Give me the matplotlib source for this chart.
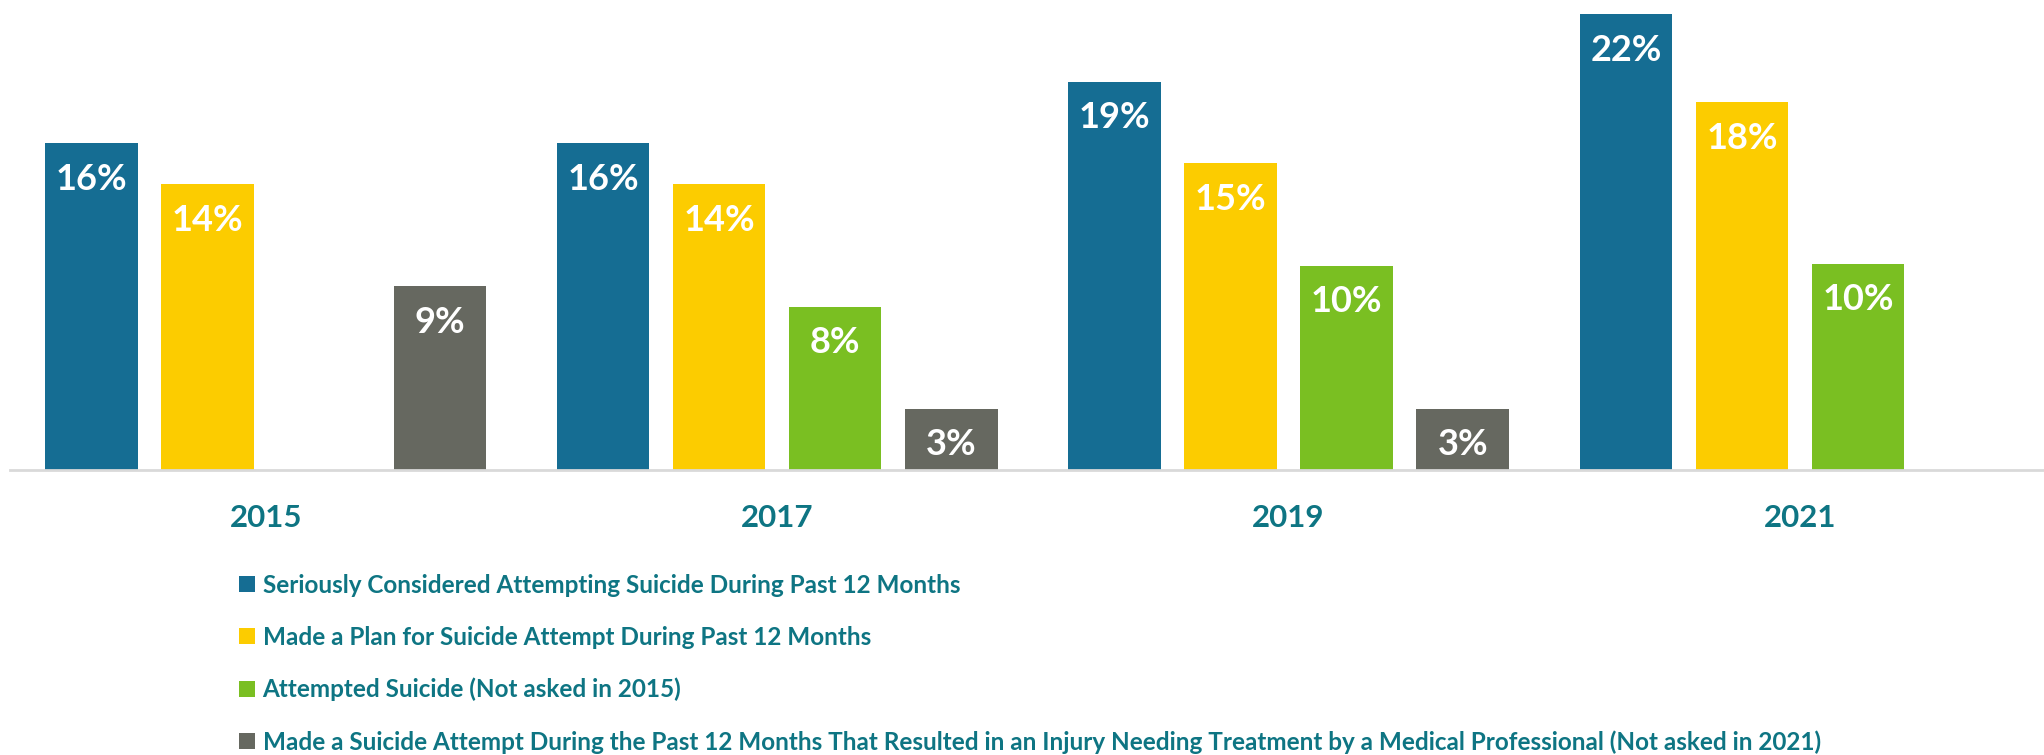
import matplotlib
matplotlib.use("Agg")
import matplotlib.pyplot as plt
from matplotlib.patches import Patch
import numpy as np

plt.rcParams['font.family'] = ['Lato', 'DejaVu Sans']

# data
years = ['2015', '2017', '2019', '2021']
series_names = [
    'Seriously Considered Attempting Suicide During Past 12 Months',
    'Made a Plan for Suicide Attempt During Past 12 Months',
    'Attempted Suicide (Not asked in 2015)',
    'Made a Suicide Attempt During the Past 12 Months That Resulted in an Injury Needing Treatment by a Medical Professional (Not asked in 2021)',
]
considered = [16.0, 16.0, 19.0, 22.3]
plan = [14.0, 14.0, 15.0, 18.0]
attempted = [None, 8.0, 10.0, 10.1]
injury = [9.0, 3.0, 3.0, None]

colors = ['#156D93', '#FCCC00', '#7ABF22', '#666860']
teal = '#0E7583'

fig = plt.figure(figsize=(20.44, 7.55), dpi=100)
ax = fig.add_axes([10 / 2044, 1 - 470 / 755, 1 - 10 / 2044, 470 / 755])

x = np.arange(len(years))
step = 0.227
width = 0.181
all_series = [considered, plan, attempted, injury]
for i, (vals, col) in enumerate(zip(all_series, colors)):
    for xi, v in zip(x, vals):
        if v is None:
            continue
        xp = xi + (i - 1.5) * step
        ax.bar(xp, v, width=width, color=col)
        ax.annotate(f'{round(v)}%', xy=(xp, v), xytext=(0, -26),
                    textcoords='offset points', ha='center', va='center',
                    color='white', fontsize=26, fontweight='bold')

for xi, yr in zip(x, years):
    ax.annotate(yr, xy=(xi, 0), xycoords=('data', 'axes fraction'),
                xytext=(0, -34.5), textcoords='offset points',
                ha='center', va='center', color=teal,
                fontsize=22.5, fontweight='bold')

ax.set_xlim(-0.5, 3.477)
ax.set_ylim(0, 23.0)
ax.set_xticks([])
ax.set_yticks([])
for s in ['top', 'right', 'left']:
    ax.spines[s].set_visible(False)
ax.spines['bottom'].set_color('#D9D9D9')
ax.spines['bottom'].set_linewidth(2)

handles = [Patch(facecolor=c, edgecolor='none') for c in colors]
leg = fig.legend(handles, series_names, loc='upper left',
                 bbox_to_anchor=(239 / 2044, 1 - 574 / 755),
                 frameon=False, borderpad=0, borderaxespad=0,
                 handlelength=0.64, handleheight=0.64,
                 handletextpad=0.33, labelspacing=1.19,
                 prop={'weight': 'bold', 'size': 17.45})
for t in leg.get_texts():
    t.set_color(teal)

fig.savefig('out.png', dpi=100)
